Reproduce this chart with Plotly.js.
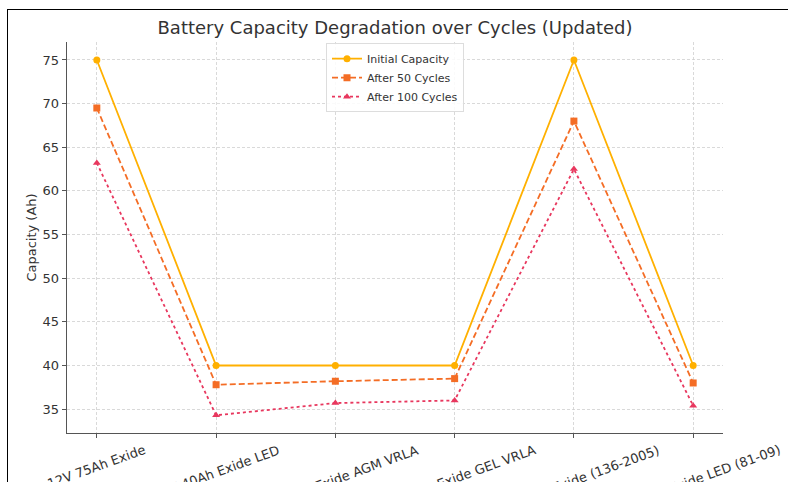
<!DOCTYPE html>
<html>
<head>
<meta charset="utf-8">
<script src="https://cdn.plot.ly/plotly-3.0.1.min.js"></script>
<style>
  html, body { margin: 0; padding: 0; background: #fff; }
  #chart { width: 788px; height: 482px; position: relative; }
  #frame { position: absolute; left: 7px; top: 9px; width: 800px; height: 500px;
           border-left: 1.5px solid #000; border-top: 1.5px solid #000; pointer-events: none; }
</style>
</head>
<body>
<div id="chart"></div>
<div id="frame"></div>
<script>
const categories = [
  "12V 75Ah Exide",
  "12V 40Ah Exide LED",
  "12V 40Ah Exide AGM VRLA",
  "12V 40Ah Exide GEL VRLA",
  "12V 75Ah Exide (136-2005)",
  "12V 40Ah Exide LED (81-09)"
];
const initialCapacity = [75, 40, 40, 40, 75, 40];
const after50 = [69.5, 37.8, 38.2, 38.5, 68.0, 38.0];
const after100 = [63.2, 34.3, 35.7, 36.0, 62.5, 35.4];
const yTicks = [35, 40, 45, 50, 55, 60, 65, 70, 75];

const idx = categories.map((_, i) => i);
const font = "DejaVu Sans, Verdana, sans-serif";

const traces = [
  { x: idx, y: initialCapacity, name: "Initial Capacity", type: "scatter", mode: "lines+markers",
    line: { color: "#FFB000", width: 1.8, dash: "solid" },
    marker: { symbol: "circle", size: 7, color: "#FFB000" } },
  { x: idx, y: after50, name: "After 50 Cycles", type: "scatter", mode: "lines+markers",
    line: { color: "#F46D25", width: 1.8, dash: "6px,3px" },
    marker: { symbol: "square", size: 7, color: "#F46D25" } },
  { x: idx, y: after100, name: "After 100 Cycles", type: "scatter", mode: "lines+markers",
    line: { color: "#E8375E", width: 1.8, dash: "dot" },
    marker: { symbol: "triangle-up", size: 7, color: "#E8375E" } }
];

// category labels, centred on each tick like the reference (rotated box centred)
const labelAnnotations = categories.map((c, i) => ({
  x: i, xref: "x", y: 0, yref: "paper", yshift: -8,
  xanchor: "center", yanchor: "top", textangle: -20, showarrow: false,
  text: c, font: { family: font, size: 13, color: "#333" }, borderpad: 0
}));

const layout = {
  width: 788, height: 482,
  margin: { l: 67, r: 65, t: 42, b: 49, pad: 0 },
  paper_bgcolor: "#fff", plot_bgcolor: "#fff",
  font: { family: font, color: "#333", size: 13 },
  title: { text: "Battery Capacity Degradation over Cycles (Updated)",
           font: { family: font, size: 18, color: "#333" },
           x: 0.5, xref: "paper", xanchor: "center", y: 0.942, yref: "container", yanchor: "middle" },
  showlegend: true,
  legend: { x: 0.5, xanchor: "center", y: 0.997, yanchor: "top",
            bgcolor: "rgba(255,255,255,0.85)", bordercolor: "#dddddd", borderwidth: 1,
            font: { family: font, size: 11, color: "#333" }, itemwidth: 30,
            tracegroupgap: 0 },
  annotations: labelAnnotations,
  xaxis: {
    range: [-0.25, 5.25], tickmode: "array", tickvals: idx, ticktext: categories,
    showticklabels: false, automargin: false,
    showgrid: true, gridcolor: "#d0d0d0", griddash: "3px,2px", gridwidth: 0.8,
    showline: true, linecolor: "#555", linewidth: 1.3,
    ticks: "outside", ticklen: 4, tickcolor: "#555", zeroline: false
  },
  yaxis: {
    range: [32.27, 77.06], tickmode: "array", tickvals: yTicks,
    automargin: false,
    showgrid: true, gridcolor: "#d0d0d0", griddash: "3px,2px", gridwidth: 0.8,
    showline: true, linecolor: "#555", linewidth: 1.3,
    ticks: "outside", ticklen: 4, tickcolor: "#555",
    tickfont: { family: font, size: 13, color: "#333" }, zeroline: false,
    title: { text: "Capacity (Ah)", font: { family: font, size: 13, color: "#333" }, standoff: 3 }
  }
};

Plotly.newPlot("chart", traces, layout, { displayModeBar: false, staticPlot: true });
</script>
</body>
</html>
